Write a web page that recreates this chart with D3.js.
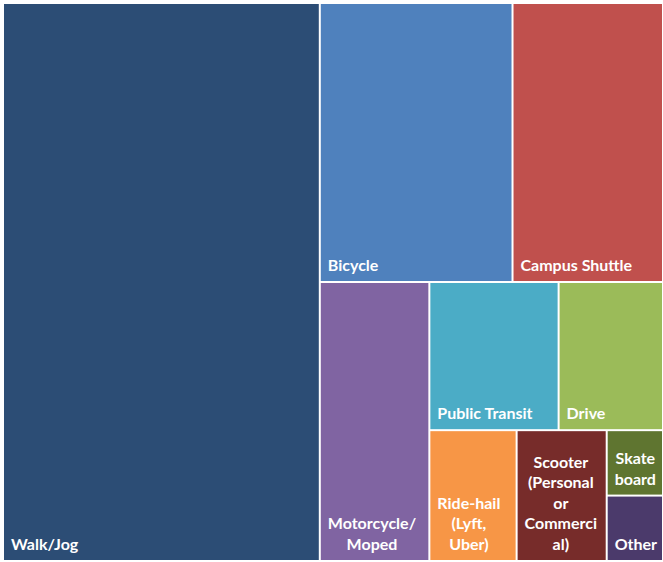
<!DOCTYPE html>
<html>
<head>
<meta charset="utf-8">
<script src="https://cdn.jsdelivr.net/npm/d3@7"></script>
<style>
  html, body { margin: 0; padding: 0; background: #ffffff; }
  svg { display: block; }
</style>
</head>
<body>
<svg id="chart" width="663" height="562"></svg>
<script>
// ---- data ----
const categories = ["Walk/Jog", "Bicycle", "Campus Shuttle", "Motorcycle/ Moped", "Public Transit",
                    "Drive", "Ride-hail (Lyft, Uber)", "Scooter (Personal or Commercial)", "Skateboard", "Other"];
const values = [48.0, 14.6, 11.4, 8.3, 5.2, 4.2, 3.1, 3.2, 1.0, 1.0];
const colors = ["#2c4d75", "#4f81bd", "#c0504d", "#8064a2", "#4bacc6",
                "#9bbb59", "#f79646", "#772c2a", "#5f7530", "#4b3a6b"];
// nesting of the tiles (category indices), alternating horizontal / vertical splits
const nesting = [0, [[1, 2], [3, [[4, 5], [6, 7, [8, 9]]]]]];

// ---- build hierarchy ----
function build(n) {
  if (Array.isArray(n)) return { children: n.map(build) };
  return { name: categories[n], value: values[n], color: colors[n] };
}
const root = d3.hierarchy(build(nesting)).sum(d => d.value || 0);

const W = 663, H = 562;
const margin = { left: 4, top: 4, right: 1, bottom: 2 };
d3.treemap()
  .tile(d3.treemapSliceDice)
  .size([W - margin.left - margin.right, H - margin.top - margin.bottom])
  .paddingInner(2)
  .round(false)(root);

const svg = d3.select("#chart");
const g = svg.append("g").attr("transform", `translate(${margin.left},${margin.top})`);

const leaves = g.selectAll("g.leaf").data(root.leaves()).join("g").attr("class", "leaf");
leaves.append("rect")
  .attr("x", d => d.x0).attr("y", d => d.y0)
  .attr("width", d => d.x1 - d.x0).attr("height", d => d.y1 - d.y0)
  .attr("fill", d => d.data.color);

const fontSize = 16, lineH = 20.6, padX = 7, padB = 10;

function measure(txt, s) {
  txt.text(s);
  return txt.node().getComputedTextLength();
}

leaves.each(function(d) {
  const sel = d3.select(this);
  const maxW = (d.x1 - d.x0) - 10;
  const text = sel.append("text")
    .attr("fill", "#ffffff")
    .attr("font-family", "Lato, 'Open Sans', sans-serif")
    .attr("font-weight", "bold")
    .attr("font-size", fontSize);
  // greedy wrap, with char break for too-long words
  const words = d.data.name.split(" ");
  const lines = [];
  let cur = "";
  words.forEach(w => {
    const trial = cur ? cur + " " + w : w;
    if (measure(text, trial) <= maxW) { cur = trial; return; }
    if (cur) { lines.push(cur); cur = ""; }
    if (measure(text, w) <= maxW) { cur = w; return; }
    let piece = "";
    for (const ch of w) {
      if (measure(text, piece + ch) <= maxW) piece += ch;
      else { lines.push(piece); piece = ch; }
    }
    cur = piece;
  });
  if (cur) lines.push(cur);
  text.text(null);
  const widths = lines.map(l => measure(text, l));
  text.text(null);
  const blockW = d3.max(widths);
  const cx = d.x0 + padX + blockW / 2;
  const lastY = d.y1 - padB;
  lines.forEach((l, i) => {
    text.append("tspan")
      .attr("x", cx)
      .attr("y", lastY - (lines.length - 1 - i) * lineH)
      .attr("text-anchor", "middle")
      .text(l);
  });
});
</script>
</body>
</html>
